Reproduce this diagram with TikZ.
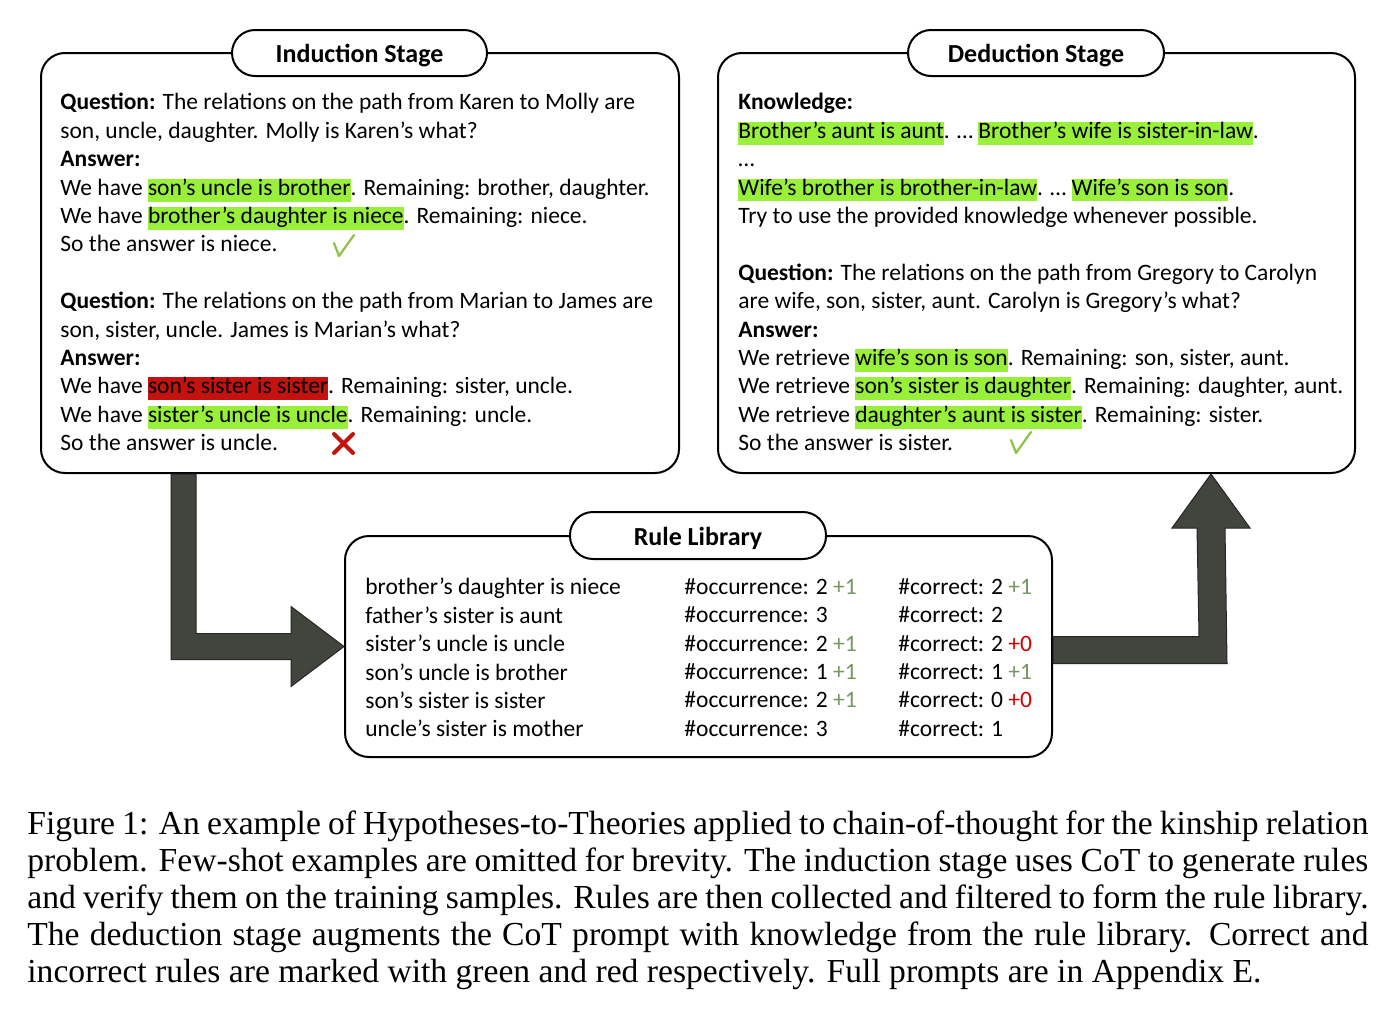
\documentclass[tikz,border=0pt]{standalone}
\usepackage{fontspec}
\setmainfont{Carlito}
\newfontfamily\capfont{Liberation Serif}
\usetikzlibrary{calc}

\definecolor{hlgreen}{RGB}{152,240,58}
\definecolor{hlred}{RGB}{196,18,14}
\definecolor{arrowgray}{RGB}{66,69,62}
\definecolor{plusgreen}{RGB}{120,150,95}
\definecolor{plusred}{RGB}{205,0,0}
\definecolor{tickgreen}{RGB}{140,195,70}

\newcommand\hs{\rule[-3.2pt]{0pt}{11pt}}
\newcommand\hlg[1]{{\setlength\fboxsep{0pt}\colorbox{hlgreen}{\hs#1}}}
\newcommand\hlr[1]{{\setlength\fboxsep{0pt}\colorbox{hlred}{\hs#1}}}
\newcommand\plusg[1]{\textcolor{plusgreen}{#1}}
\newcommand\plusr[1]{\textcolor{plusred}{#1}}

\tikzset{
  stagebox/.style={draw, line width=1pt, rounded corners=12pt, inner sep=0pt},
  stagetitle/.style={draw, fill=white, line width=1pt, rounded corners=11.5pt, inner sep=0pt,
    text height=9.5pt, text depth=0pt, font=\fontsize{13}{15}\selectfont\bfseries},
  bodytext/.style={anchor=north west, inner sep=0pt, align=left, font=\fontsize{11.75}{14.2}\selectfont},
  bigarrow/.style={fill=arrowgray, draw=black!85, line width=0.5pt, line join=miter},
  tick/.style={draw=tickgreen, line width=1.1pt, line join=round, line cap=round},
  cross/.style={draw=hlred, line width=2pt, line cap=round},
}

\begin{document}
\begin{tikzpicture}[x=0.5pt, y=-0.5pt]
    \path[use as bounding box, fill=white] (0,0) rectangle (1400,1012);

    \node[stagebox, minimum width=319pt, minimum height=210pt] (ind) at (360,263) {};
    \node[stagebox, minimum width=318.5pt, minimum height=210pt] (ded) at (1036.5,263) {};
    \node[stagebox, minimum width=353.5pt, minimum height=110.5pt] (lib) at (698.5,646.5) {};

    \fill[bigarrow] ($(ind.south west)+(131,0)$) -- ($(ind.south west)+(156,0)$)
        -- ($(lib.west)+(-148,-13)$) -- ($(lib.west)+(-53,-13)$) -- ($(lib.west)+(-53,-40)$)
        -- (lib.west) -- ($(lib.west)+(-53,40)$) -- ($(lib.west)+(-53,13)$)
        -- ($(lib.west)+(-173,13)$) -- cycle;
    \fill[bigarrow] ($(lib.east)+(0,-10)$) -- ($(lib.east)+(146,-10)$)
        -- ($(ded.south west)+(480,54)$) -- ($(ded.south west)+(455,54)$)
        -- ($(ded.south west)+(494,0)$) -- ($(ded.south west)+(533,54)$)
        -- ($(ded.south west)+(508,54)$) -- ($(lib.east)+(174,17)$)
        -- ($(lib.east)+(0,17)$) -- cycle;

    \node[stagetitle, minimum width=127.5pt, minimum height=23pt] (indtitle) at (359.5,53) {Induction Stage};
    \node[stagetitle, minimum width=128pt, minimum height=23pt] (dedtitle) at (1036,53) {Deduction Stage};
    \node[stagetitle, minimum width=128pt, minimum height=23.5pt] (libtitle) at (698,535.5) {Rule Library};

    \node[bodytext] (indtxt) at (60,93) {\hs\textbf{Question:} The relations on the path from Karen to Molly are\\
        son, uncle, daughter. Molly is Karen’s what?\\
        \textbf{Answer:}\\
        We have \hlg{son’s uncle is brother}. Remaining: brother, daughter.\\
        We have \hlg{brother’s daughter is niece}. Remaining: niece.\\
        So the answer is niece.\\[14.2pt]
        \textbf{Question:} The relations on the path from Marian to James are\\
        son, sister, uncle. James is Marian’s what?\\
        \textbf{Answer:}\\
        We have \hlr{son’s sister is sister}. Remaining: sister, uncle.\\
        We have \hlg{sister’s uncle is uncle}. Remaining: uncle.\\
        So the answer is uncle.};

    \node[bodytext] (dedtxt) at (738,93) {\hs\textbf{Knowledge:}\\
        \hlg{Brother’s aunt is aunt}. … \hlg{Brother’s wife is sister-in-law}.\\
        …\\
        \hlg{Wife’s brother is brother-in-law}. … \hlg{Wife’s son is son}.\\
        Try to use the provided knowledge whenever possible.\\[14.2pt]
        \textbf{Question:} The relations on the path from Gregory to Carolyn\\
        are wife, son, sister, aunt. Carolyn is Gregory’s what?\\
        \textbf{Answer:}\\
        We retrieve \hlg{wife’s son is son}. Remaining: son, sister, aunt.\\
        We retrieve \hlg{son’s sister is daughter}. Remaining: daughter, aunt.\\
        We retrieve \hlg{daughter’s aunt is sister}. Remaining: sister.\\
        So the answer is sister.};

    \node[bodytext] (rules) at (365,578) {\hs brother’s daughter is niece\\
        father’s sister is aunt\\
        sister’s uncle is uncle\\
        son’s uncle is brother\\
        son’s sister is sister\\
        uncle’s sister is mother};
    \node[bodytext] (occ) at (684,578) {\hs\#occurrence: 2 \plusg{+1}\\
        \#occurrence: 3\\
        \#occurrence: 2 \plusg{+1}\\
        \#occurrence: 1 \plusg{+1}\\
        \#occurrence: 2 \plusg{+1}\\
        \#occurrence: 3};
    \node[bodytext] (corr) at (898,578) {\hs\#correct: 2 \plusg{+1}\\
        \#correct: 2\\
        \#correct: 2 \plusr{+0}\\
        \#correct: 1 \plusg{+1}\\
        \#correct: 0 \plusr{+0}\\
        \#correct: 1};

    \draw[tick] (334,243) -- (339,256) -- (354,235);
    \draw[tick] (1011,440) -- (1016,453) -- (1031,432);
    \draw[cross] (334,434) -- (353,453) (334,453) -- (353,434);

    \node[anchor=north west, inner sep=0pt, text width=670.5pt, align=justify,
        font=\capfont\fontsize{16.8}{18.5}\selectfont] (caption) at (27,810) {Figure 1: An example of
        Hypotheses-to-Theories applied to chain-of-thought for the kinship relation\linebreak
        problem. Few-shot examples are omitted for brevity. The induction stage uses CoT to generate rules\linebreak
        and verify them on the training samples. Rules are then collected and filtered to form the rule library.\linebreak
        The deduction stage augments the CoT prompt with knowledge from the rule library. Correct and\linebreak
        incorrect rules are marked with green and red respectively. Full prompts are in Appendix E.};
\end{tikzpicture}
\end{document}
